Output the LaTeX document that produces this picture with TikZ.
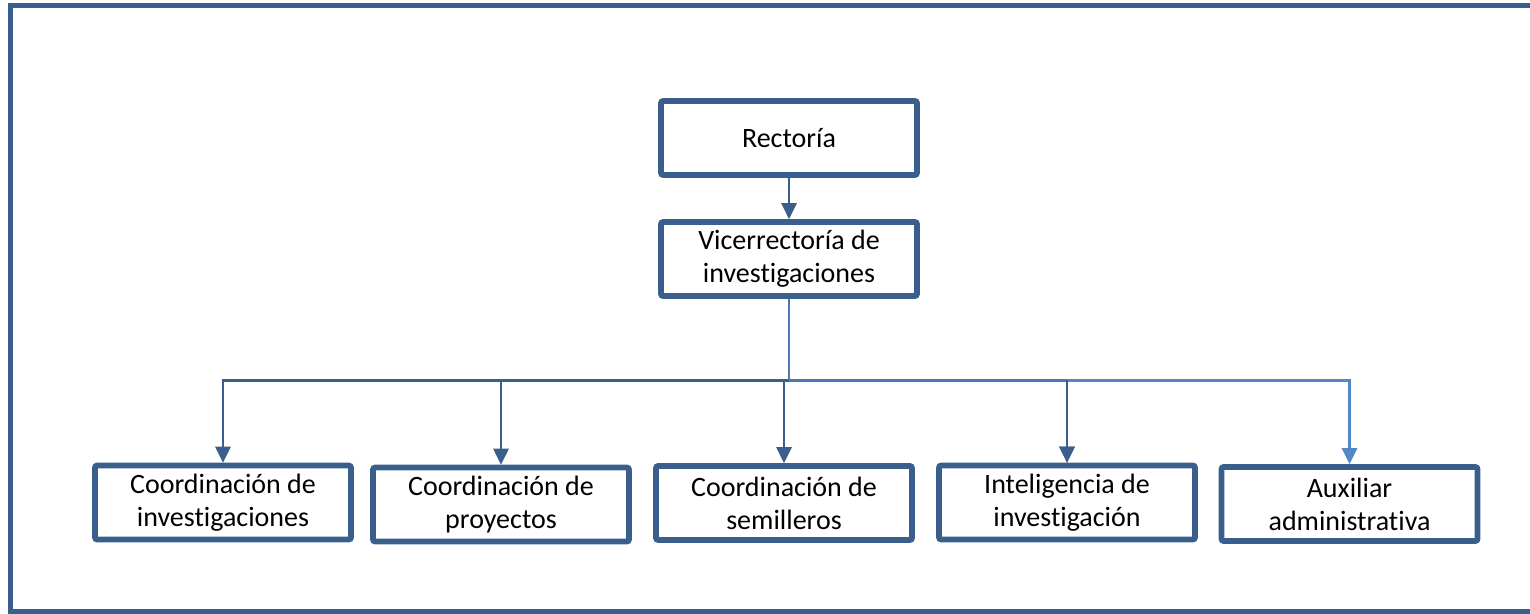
\documentclass[tikz,border=0pt]{standalone}
\usepackage{fontspec}
\setmainfont{Carlito}[Ligatures=NoCommon]
\usetikzlibrary{arrows.meta}
\definecolor{boxblue}{RGB}{58,95,140}
\definecolor{midblue}{RGB}{74,122,181}
\definecolor{lightblue}{RGB}{84,135,200}
\tikzset{
  unit/.style={draw=boxblue, line width=2.8pt, rounded corners=1pt, fill=white,
    minimum width=128pt, minimum height=37pt, align=center, inner sep=0pt,
    font=\fontsize{14}{16.5}\selectfont},
  link/.style={draw=boxblue, line width=1.4pt, -{Triangle[width=7.5pt,length=8pt]}},
}
\begin{document}
\begin{tikzpicture}[x=0.5pt, y=-0.5pt]
  \useasboundingbox (0,0) rectangle (1530,614);
  \draw[boxblue, line width=2.8pt] (10.5,5.5) rectangle (1560,611.5);
  \node[unit] (rect) at (789,138) {Rector\'ia};
  \node[unit] (vice) at (789,259) {Vicerrector\'ia de\\investigaciones};
  \node[unit] (coinv) at (223,502.5) {Coordinaci\'on de\\investigaciones};
  \node[unit] (copro) at (501,504.5) {Coordinaci\'on de\\proyectos};
  \node[unit] (cosem) at (784,503) {Coordinaci\'on de\\semilleros};
  \node[unit] (intel) at (1067,502.5) {Inteligencia de\\investigaci\'on};
  \node[unit] (auxad) at (1349.5,504) {Auxiliar\\administrativa};
  \draw[link] (rect) -- (vice);
  \path (vice.south) ++(0,81.5) coordinate (bus);
  \draw[midblue, line width=1.4pt] (vice.south) -- (bus);
  % branches to the five offices
  \foreach \office in {coinv,copro,cosem,intel}
    \draw[link] (bus) -| (\office.north);
  \draw[link, draw=lightblue] (bus) -| (auxad.north);
  \draw[midblue, line width=1.4pt] (bus) -- (bus -| intel.north);
  \draw[link] (bus -| intel.north) -- (intel.north);
\end{tikzpicture}
\end{document}
